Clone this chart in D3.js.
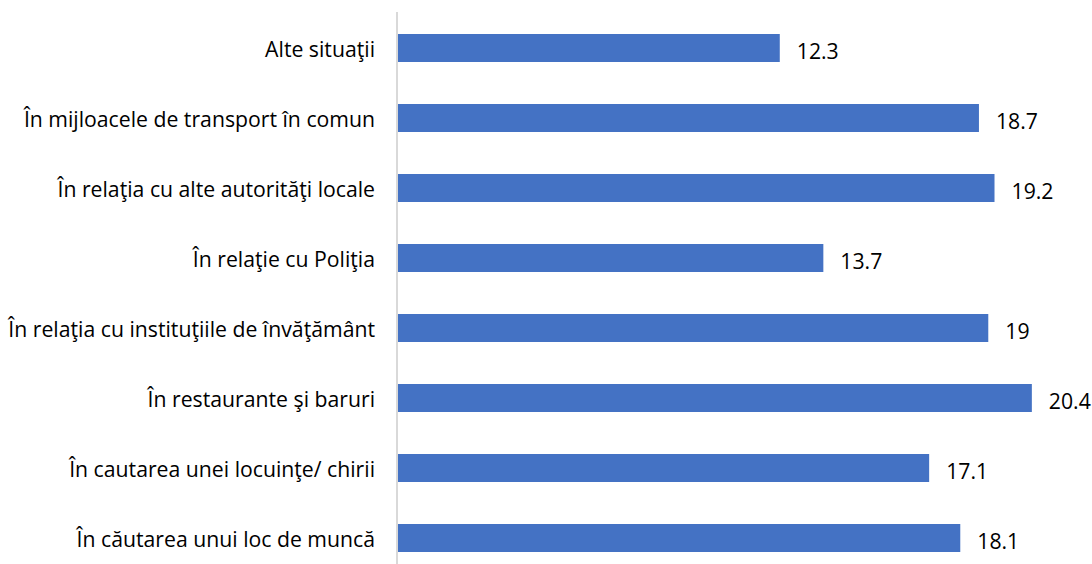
<!DOCTYPE html>
<html><head><meta charset="utf-8">
<script src="https://cdn.jsdelivr.net/npm/d3@7"></script>
<style>body{margin:0;background:#fff}svg{display:block}</style>
</head><body>
<svg id="c" width="1092" height="564"></svg>
<script>
const categories = ["Alte situaţii","În mijloacele de transport în comun","În relaţia cu alte autorităţi locale","În relaţie cu Poliţia","În relaţia cu instituţiile de învăţământ","În restaurante şi baruri","În cautarea unei locuinţe/ chirii","În căutarea unui loc de muncă"];
const values = [12.3,18.7,19.2,13.7,19,20.4,17.1,18.1];
const valueLabels = ["12.3","18.7","19.2","13.7","19","20.4","17.1","18.1"];

const svg = d3.select("#c");
const x0 = 397;
const x = d3.scaleLinear().domain([0, 1]).range([x0, x0 + 31.12]);
const y = d3.scaleBand().domain(categories).range([13, 573]).paddingInner(0.6).paddingOuter(0.3);
const font = "'Open Sans', sans-serif";

// fit font size so the longest label matches the reference width
const probe = svg.append("text").attr("font-family", font).attr("font-size", 20)
  .text("În relaţia cu instituţiile de învăţământ");
const w = probe.node().getComputedTextLength();
probe.remove();
const fs = 20 * 367 / w;

svg.selectAll("rect.bar").data(values).join("rect")
  .attr("x", x(0)).attr("y", (d,i)=>y(categories[i]))
  .attr("width", d=>x(d)-x(0)).attr("height", y.bandwidth())
  .attr("fill", "#4472C4");

svg.append("line").attr("x1", x0).attr("x2", x0).attr("y1", 12).attr("y2", 564)
  .attr("stroke", "#d9d9d9").attr("stroke-width", 2);

svg.selectAll("text.cat").data(categories).join("text")
  .attr("x", x0 - 22).attr("y", d=>y(d)+y.bandwidth()/2)
  .attr("text-anchor","end").attr("dominant-baseline","central")
  .attr("font-family", font).attr("font-size", fs).attr("fill","#000")
  .text(d=>d);

svg.selectAll("text.val").data(values).join("text")
  .attr("x", d=>x(d)+17).attr("y", (d,i)=>y(categories[i])+y.bandwidth()/2+2)
  .attr("dominant-baseline","central")
  .attr("font-family", font).attr("font-size", fs).attr("fill","#000")
  .text((d,i)=>valueLabels[i]);
</script>
</body></html>
